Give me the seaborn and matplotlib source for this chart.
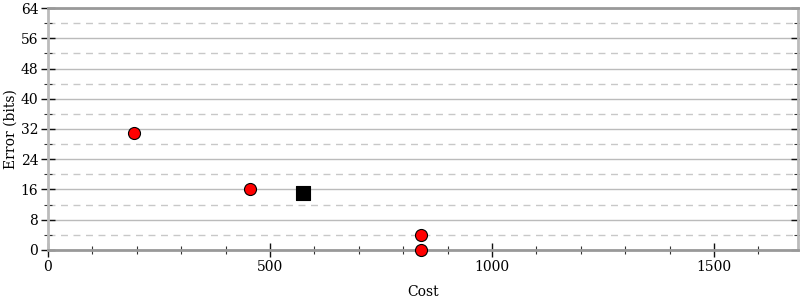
import matplotlib
matplotlib.use("Agg")
import matplotlib.pyplot as plt
import seaborn as sns
import pandas as pd
from matplotlib.ticker import MultipleLocator

cost_circles = [194, 456, 841, 841]
error_circles = [31, 16, 4, 0]
cost_square = [575]
error_square = [15]

sns.set_style("white")
plt.rcParams['font.family'] = ['DejaVu Serif']
plt.rcParams['text.color'] = 'black'
plt.rcParams['axes.labelcolor'] = 'black'
plt.rcParams['xtick.labelcolor'] = 'black'
plt.rcParams['ytick.labelcolor'] = 'black'

fig = plt.figure(figsize=(8, 3), dpi=100)
ax = fig.add_axes([0.06, 0.1667, 0.9375, 0.8066])

df_c = pd.DataFrame({"Cost": cost_circles, "Error": error_circles})
df_s = pd.DataFrame({"Cost": cost_square, "Error": error_square})

ax.set_xlim(0, 1689)
ax.set_ylim(0, 64)
ax.yaxis.set_major_locator(MultipleLocator(8))
ax.yaxis.set_minor_locator(MultipleLocator(4))
ax.xaxis.set_major_locator(MultipleLocator(500))
ax.xaxis.set_minor_locator(MultipleLocator(100))

ax.grid(True, which="major", axis="y", color="#bbbbbb", linestyle="-", linewidth=1)
ax.grid(True, which="minor", axis="y", color="#c8c8c8", linestyle=(0, (5, 4)), linewidth=1)
ax.set_axisbelow(True)

sns.scatterplot(data=df_c, x="Cost", y="Error", ax=ax, marker="o", s=75,
                color="#ff0000", edgecolor="black", linewidth=0.8, zorder=3, clip_on=False)
sns.scatterplot(data=df_s, x="Cost", y="Error", ax=ax, marker="s", s=90,
                color="black", edgecolor="black", linewidth=0.8, zorder=3, clip_on=False)

for side in ["top", "bottom"]:
    ax.spines[side].set_color("#999999")
    ax.spines[side].set_linewidth(2)
for side in ["left", "right"]:
    ax.spines[side].set_color("#bbbbbb")
    ax.spines[side].set_linewidth(2)

ax.tick_params(axis="both", which="major", direction="inout", length=10, width=1,
               color="#111111", labelsize=10, pad=2, labelcolor="black")
ax.tick_params(axis="both", which="minor", direction="inout", length=6, width=0.8,
               color="#333333")
ax.tick_params(axis="y", which="both", left=True, right=True)
ax.tick_params(axis="x", which="both", bottom=True, top=False)

ax.set_xlabel("Cost", fontsize=10, labelpad=8, color="black")
ax.set_ylabel("Error (bits)", fontsize=10, labelpad=2, color="black")

fig.savefig("out.png", dpi=100)
